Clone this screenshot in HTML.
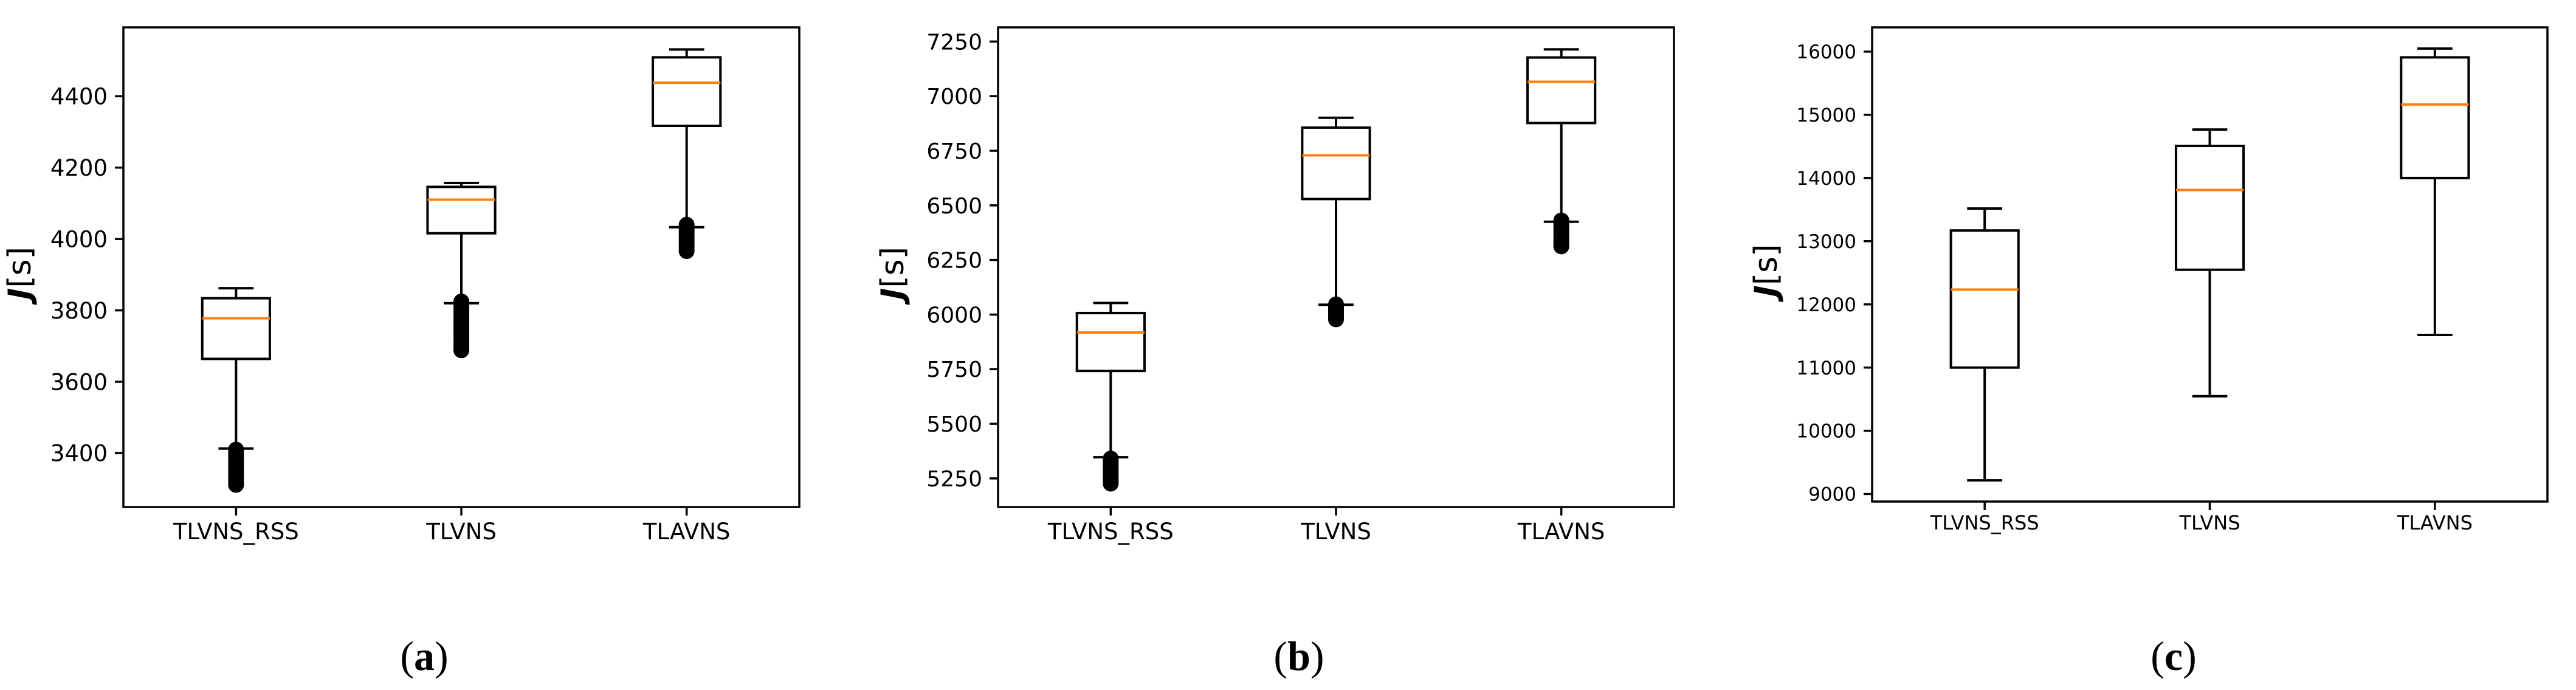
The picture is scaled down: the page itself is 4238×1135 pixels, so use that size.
<!DOCTYPE html>
<html><head><meta charset="utf-8"><style>
html,body{margin:0;padding:0;background:#fff;width:4238px;height:1135px;overflow:hidden}
svg{display:block}
text{font-family:"DejaVu Sans","Liberation Sans",sans-serif;fill:#000}
</style></head><body>
<svg id="fig" width="4238" height="1135" viewBox="0 0 4238 1135" xmlns="http://www.w3.org/2000/svg"></svg>
<script>
const categories = ["TLVNS_RSS","TLVNS","TLAVNS"];
// panel (a)
const aWhiskerHigh = [3862,4157,4531];
const aQ3 = [3834,4146,4509];
const aMedian = [3778,4110,4438];
const aQ1 = [3664,4016,4317];
const aWhiskerLow = [3413,3820,4033];
const aFliers = [[3410,3402,3395,3388,3380,3372,3365,3358,3350,3342,3335,3328,3320,3315,3311],[3825,3818,3810,3802,3795,3788,3780,3772,3765,3758,3750,3742,3735,3728,3720,3712,3705,3698,3692,3688],[4040,4032,4025,4018,4010,4002,3995,3988,3980,3972,3966]];
const aTicks = [3400,3600,3800,4000,4200,4400];
// panel (b)
const bWhiskerHigh = [6053,6901,7214];
const bQ3 = [6007,6856,7177];
const bMedian = [5918,6729,7066];
const bQ1 = [5742,6529,6877];
const bWhiskerLow = [5347,6045,6425];
const bFliers = [[5341,5330,5320,5310,5300,5290,5280,5270,5260,5250,5240,5232,5226],[6047,6038,6030,6020,6010,6000,5992,5985,5978],[6431,6420,6410,6400,6390,6380,6370,6360,6350,6340,6330,6320,6312]];
const bTicks = [5250,5500,5750,6000,6250,6500,6750,7000,7250];
// panel (c)
const cWhiskerHigh = [13517,14766,16049];
const cQ3 = [13169,14508,15909];
const cMedian = [12234,13810,15163];
const cQ1 = [11000,12548,13999];
const cWhiskerLow = [9215,10547,11516];
const cFliers = [[],[],[]];
const cTicks = [9000,10000,11000,12000,13000,14000,15000,16000];

const NS="http://www.w3.org/2000/svg";
const svg=document.getElementById('fig');
function mk(tag,attrs,parent){const e=document.createElementNS(NS,tag);for(const k in attrs)e.setAttribute(k,attrs[k]);(parent||svg).appendChild(e);return e;}

const panels=[
 {id:'a',x0:203,x1:1315,y0:45,y1:834,ymin:3249,ymax:4593,tf:37,xf:37,ticks:aTicks,wh:aWhiskerHigh,q3:aQ3,med:aMedian,q1:aQ1,wl:aWhiskerLow,fl:aFliers,ylx:50,cap:'(a)',capx:698},
 {id:'b',x0:1642,x1:2754,y0:45,y1:834,ymin:5119,ymax:7315,tf:36,xf:37,ticks:bTicks,wh:bWhiskerHigh,q3:bQ3,med:bMedian,q1:bQ1,wl:bWhiskerLow,fl:bFliers,ylx:1486,cap:'(b)',capx:2137},
 {id:'c',x0:3080,x1:4191,y0:45,y1:825,ymin:8880,ymax:16384,tf:31,xf:32,ticks:cTicks,wh:cWhiskerHigh,q3:cQ3,med:cMedian,q1:cQ1,wl:cWhiskerLow,fl:cFliers,ylx:2923,cap:'(c)',capx:3576}
];

panels.forEach(p=>{
 const g=mk('g',{});
 
 
 const xs=i=>p.x0+(i+0.5)/3*(p.x1-p.x0);
 const unit=(p.x1-p.x0)/3;
 const ys=v=>p.y1-(v-p.ymin)/(p.ymax-p.ymin)*(p.y1-p.y0);
 p.ticks.forEach(t=>{
  const y=ys(t);
  const l=mk('line',{x1:p.x0-14,x2:p.x0,y1:y,y2:y,stroke:'#000','stroke-width':3.5},g);
  
  
  const tx=mk('text',{x:p.x0-26,y:y+p.tf*0.36,'font-size':p.tf,'text-anchor':'end'},g);
  
  
  tx.textContent=t;
 });
 categories.forEach((c,i)=>{
  const x=xs(i);
  const l=mk('line',{x1:x,x2:x,y1:p.y1,y2:p.y1+14,stroke:'#000','stroke-width':3.5},g);
  
  
  const tx=mk('text',{x:x,y:p.y1+(p.id==='c'?46:53),'font-size':p.xf,'text-anchor':'middle'},g);
  
  
  tx.textContent=c;
 });
 categories.forEach((c,i)=>{
  const x=xs(i), hw=0.15*unit, cw=0.078*unit;
  const bg=mk('g',{},g);
  
  
  mk('line',{x1:x,x2:x,y1:ys(p.q3[i]),y2:ys(p.wh[i]),stroke:'#000','stroke-width':4},bg);
  mk('line',{x1:x,x2:x,y1:ys(p.q1[i]),y2:ys(p.wl[i]),stroke:'#000','stroke-width':4},bg);
  mk('line',{x1:x-cw,x2:x+cw,y1:ys(p.wh[i]),y2:ys(p.wh[i]),stroke:'#000','stroke-width':4},bg);
  mk('line',{x1:x-cw,x2:x+cw,y1:ys(p.wl[i]),y2:ys(p.wl[i]),stroke:'#000','stroke-width':4},bg);
  mk('rect',{x:x-hw,y:ys(p.q3[i]),width:2*hw,height:ys(p.q1[i])-ys(p.q3[i]),fill:'none',stroke:'#000','stroke-width':4},bg);
  mk('line',{x1:x-hw,x2:x+hw,y1:ys(p.med[i]),y2:ys(p.med[i]),stroke:'#ff7f0e','stroke-width':4},bg);
  p.fl[i].forEach(v=>{
   const ci=mk('circle',{cx:x,cy:ys(v),r:13,fill:'#000'},bg);
   
   
  });
 });
 const fr=mk('rect',{x:p.x0,y:p.y0,width:p.x1-p.x0,height:p.y1-p.y0,fill:'none',stroke:'#000','stroke-width':3.5},g);
 
 
 const cy=(p.y0+p.y1)/2+10;
 const yl=mk('text',{x:p.ylx,y:cy,'font-size':52,'text-anchor':'middle',transform:`rotate(-90 ${p.ylx} ${cy})`},g);
 
 
 const js=mk('tspan',{'font-style':'italic','font-weight':'bold'},yl); js.textContent='J';
 const rs=mk('tspan',{},yl); rs.textContent='[s]';
 const cp=mk('text',{x:p.capx,y:1102,'font-size':68,'text-anchor':'middle',style:'font-family:"Liberation Serif",serif'},g);
 
 
 const t1=mk('tspan',{},cp); t1.textContent='(';
 const t2=mk('tspan',{'font-weight':'bold'},cp); t2.textContent=p.cap[1];
 const t3=mk('tspan',{},cp); t3.textContent=')';
});
</script>
</body></html>
